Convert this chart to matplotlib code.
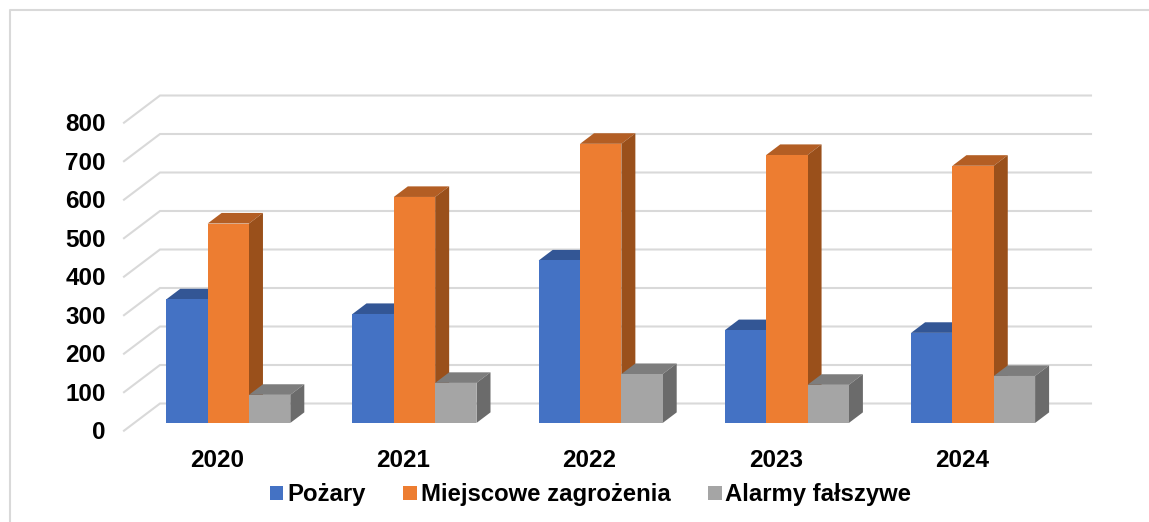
#!/usr/bin/env python3
# -*- coding: utf-8 -*-

import matplotlib
matplotlib.use("Agg")
import matplotlib.pyplot as plt
from matplotlib.lines import Line2D
from matplotlib.patches import Patch
from matplotlib.transforms import ScaledTranslation


# -------------------------------------------------
# DATA
# -------------------------------------------------
years = ["2020", "2021", "2022", "2023", "2024"]
pozary = [321, 283, 422, 241, 234]
miejscowe = [518, 587, 725, 696, 668]
alarmy = [73, 104, 127, 99, 122]
y_ticks = [0, 100, 200, 300, 400, 500, 600, 700, 800]

series_names = ["Pożary", "Miejscowe zagrożenia", "Alarmy fałszywe"]
series_values = [pozary, miejscowe, alarmy]


# -------------------------------------------------
# VISUAL SETTINGS
# -------------------------------------------------
plt.rcParams.update({
    "font.family": "Liberation Sans",
    "font.weight": "bold",
    "font.size": 17.5,
})

front_colors = ["#4472C4", "#ED7D31", "#A5A5A5"]
top_colors = ["#335695", "#B35E24", "#7D7D7D"]
side_colors = ["#2C4A80", "#9A501B", "#6B6B6B"]
grid_color = "#D9D9D9"

W, H = 1149, 522
fig = plt.figure(figsize=(W / 100, H / 100), dpi=100)

# axes box is the front plane of the fake 3D box
ax = fig.add_axes([124 / W, (H - 430.7) / H, 931 / W, 308 / H])
ax.set_xlim(-0.5, 4.5)
ax.set_ylim(0, 800)

# how far the back wall is shifted from the front plane (data units)
DEPTH_X = 36 / 186.2
DEPTH_Y = 27.2 / 0.385

BAR_W = 0.222
BAR_FRONT = 0.285
BAR_BACK = 0.674
BAR_NUDGE = 0.005


def project(x, v, d):
    return x + d * DEPTH_X, v + d * DEPTH_Y


# Walls / gridlines
for v in y_ticks:
    x0, y0 = project(-0.5, v, 0)
    x1, y1 = project(-0.5, v, 1)
    x2, y2 = project(4.5, v, 1)
    ax.plot([x0, x1, x2], [y0, y1, y2], color=grid_color, linewidth=1.5,
            clip_on=False, zorder=1, solid_joinstyle="miter")

# Bars, left to right so that the neighbour covers the side face
z = 2
for i in range(len(years)):
    for s, values in enumerate(series_values):
        left = i + (s - 1.5) * BAR_W + BAR_NUDGE
        right = left + BAR_W
        v = values[i]

        fx, base = project(left, 0, BAR_FRONT)
        ax.bar(fx, v, width=BAR_W, bottom=base, align="edge",
               color=front_colors[s], clip_on=False, zorder=z + 1)

        top_face = [
            project(left, v, BAR_FRONT),
            project(right, v, BAR_FRONT),
            project(right, v, BAR_BACK),
            project(left, v, BAR_BACK),
        ]
        side_face = [
            project(right, 0, BAR_FRONT),
            project(right, v, BAR_FRONT),
            project(right, v, BAR_BACK),
            project(right, 0, BAR_BACK),
        ]
        ax.fill(*zip(*top_face), color=top_colors[s], lw=0, clip_on=False, zorder=z)
        ax.fill(*zip(*side_face), color=side_colors[s], lw=0, clip_on=False, zorder=z)
        z += 2

# Ticks
ax.set_xticks(range(len(years)))
ax.set_xticklabels(years)
ax.set_yticks(y_ticks)
ax.tick_params(axis="x", length=0, pad=13)
ax.tick_params(axis="y", length=0, pad=13)
label_shift = ScaledTranslation(0, -2 / 100, fig.dpi_scale_trans)
for lab in ax.get_yticklabels():
    lab.set_verticalalignment("center")
    lab.set_transform(lab.get_transform() + label_shift)

# Style cleanup
for spine in ax.spines.values():
    spine.set_visible(False)
ax.patch.set_visible(False)

# Legend
handles = [Patch(facecolor=c, edgecolor="none") for c in front_colors]
fig.legend(
    handles,
    series_names,
    ncol=3,
    loc="center",
    bbox_to_anchor=(590.5 / W, (H - 495) / H),
    frameon=False,
    fontsize=17.2,
    handlelength=0.58,
    handleheight=0.58,
    handletextpad=0.15,
    columnspacing=1.58,
    borderpad=0,
)

# Chart frame, cut off by the screenshot on the right and bottom
fig.add_artist(Line2D([10 / W, 10 / W, 1], [0, (H - 10) / H, (H - 10) / H],
                      color=grid_color, linewidth=1.5))

fig.savefig("out.png", dpi=100)
